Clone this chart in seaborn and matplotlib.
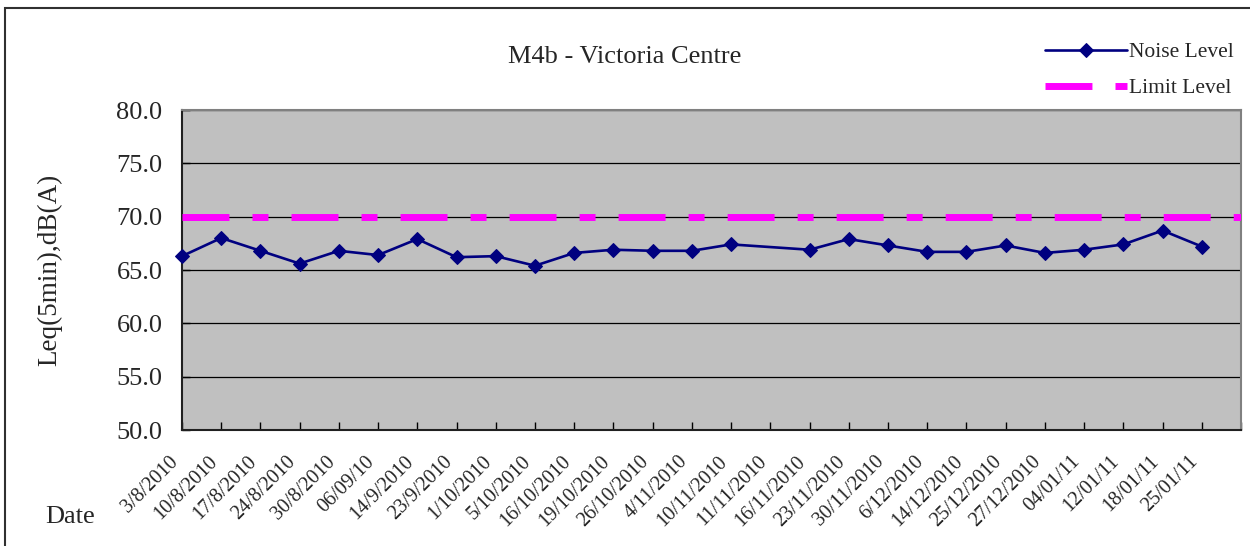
"""
M4b - Victoria Centre noise monitoring chart
- Leq(5min) noise level per survey date
- Limit level drawn as a dash-dot line at 70 dB(A)
"""

import matplotlib
matplotlib.use("Agg")  # non-interactive backend

import matplotlib.pyplot as plt
import numpy as np
import pandas as pd
import seaborn as sns
from matplotlib import transforms
from matplotlib.patches import Rectangle

# last category is blank: Excel kept one empty slot at the right end
DATES = [
    "3/8/2010", "10/8/2010", "17/8/2010", "24/8/2010", "30/8/2010",
    "06/09/10", "14/9/2010", "23/9/2010", "1/10/2010", "5/10/2010",
    "16/10/2010", "19/10/2010", "26/10/2010", "4/11/2010", "10/11/2010",
    "11/11/2010", "16/11/2010", "23/11/2010", "30/11/2010", "6/12/2010",
    "14/12/2010", "25/12/2010", "27/12/2010", "04/01/11", "12/01/11",
    "18/01/11", "25/01/11", "",
]

NOISE_LEVEL = [
    66.3, 68.0, 66.8, 65.6, 66.8,
    66.4, 67.9, 66.2, 66.3, 65.4,
    66.6, 66.9, 66.8, 66.8, 67.4,
    np.nan, 66.9, 67.9, 67.3, 66.7,
    66.7, 67.3, 66.6, 66.9, 67.4,
    68.7, 67.2, np.nan,
]

LIMIT = 70.0
LIMIT_LEVEL = [LIMIT] * len(DATES)

Y_TICKS = [50, 55, 60, 65, 70, 75, 80]

TITLE = "M4b - Victoria Centre"
Y_LABEL = "Leq(5min),dB(A)"
X_LABEL = "Date"

NAVY = "#000080"
MAGENTA = "#FF00FF"
PLOT_BG = "#C0C0C0"


def main():
    sns.set_theme(style="white")
    plt.rcParams["font.family"] = ["Liberation Serif", "DejaVu Serif"]
    plt.rcParams["lines.scale_dashes"] = False

    df = pd.DataFrame({
        "pos": np.arange(len(DATES)),
        "date": DATES,
        "noise": NOISE_LEVEL,
        "limit": LIMIT_LEVEL,
    })

    fig = plt.figure(figsize=(12.5, 5.46), dpi=100)
    ax = fig.add_axes([182 / 1250, 1 - 430 / 546, (1241 - 182) / 1250, 320 / 546])
    ax.set_facecolor(PLOT_BG)

    sns.lineplot(data=df, x="pos", y="limit", ax=ax, color=MAGENTA,
                 linewidth=5, label="Limit Level", errorbar=None, zorder=3)
    sns.lineplot(data=df, x="pos", y="noise", ax=ax, color=NAVY,
                 linewidth=1.9, marker="D", markersize=7.5,
                 markeredgecolor=NAVY, label="Noise Level",
                 errorbar=None, zorder=4, clip_on=False)

    # long dash / short dash, period about 109 px
    limit_line = ax.get_lines()[0]
    limit_line.set_dashes((33.8, 16.6, 11.5, 16.6))
    limit_line.set_dash_capstyle("butt")

    ax.set_xlim(0, len(DATES) - 1)
    ax.set_ylim(Y_TICKS[0], Y_TICKS[-1])
    ax.set_yticks(Y_TICKS)
    ax.set_yticklabels([f"{v:.1f}" for v in Y_TICKS], fontsize=19)
    ax.set_xticks(df["pos"])
    ax.set_xticklabels(DATES, rotation=45, ha="right", va="top", fontsize=14.5)
    shift = transforms.ScaledTranslation(-15 / 100, 0, fig.dpi_scale_trans)
    for lbl in ax.get_xticklabels():
        lbl.set_transform(lbl.get_transform() + shift)

    ax.tick_params(axis="both", direction="in", length=6, width=1,
                   color="black", bottom=True, left=True)
    ax.tick_params(axis="y", pad=14)
    ax.tick_params(axis="x", pad=16)

    ax.set_axisbelow(True)
    ax.grid(axis="y", color="black", linewidth=0.9)
    ax.grid(axis="x", visible=False)

    for side in ["left", "bottom"]:
        ax.spines[side].set_color("#202020")
        ax.spines[side].set_linewidth(1.5)
    for side in ["top", "right"]:
        ax.spines[side].set_color("#808080")
        ax.spines[side].set_linewidth(1.5)

    ax.set_xlabel("")
    ax.set_ylabel(Y_LABEL, fontsize=19.5)
    ax.yaxis.set_label_coords(-0.113, 0.5)

    fig.text(0.5, 1 - 63 / 546, TITLE, ha="center", va="baseline", fontsize=19)
    fig.text(45 / 1250, 1 - 523 / 546, X_LABEL, ha="left", va="baseline",
             fontsize=19)

    handles, labels = ax.get_legend_handles_labels()
    ax.get_legend().remove()
    order = [labels.index("Noise Level"), labels.index("Limit Level")]
    fig.legend([handles[i] for i in order], [labels[i] for i in order],
               loc="upper left", bbox_to_anchor=(1045 / 1250, 1 - 42 / 546),
               frameon=False, fontsize=15.5, handlelength=3.8,
               handletextpad=0.12, borderpad=0, borderaxespad=0,
               labelspacing=0.75)

    # outer chart border (cut off at right and bottom in the source)
    fig.add_artist(Rectangle((5 / 1250, -0.1), 1.2, 1.1 - 8 / 546,
                             transform=fig.transFigure, fill=False,
                             linewidth=1.5, edgecolor="#303030"))

    fig.savefig("out.png", dpi=100)
    plt.close(fig)


if __name__ == "__main__":
    main()
